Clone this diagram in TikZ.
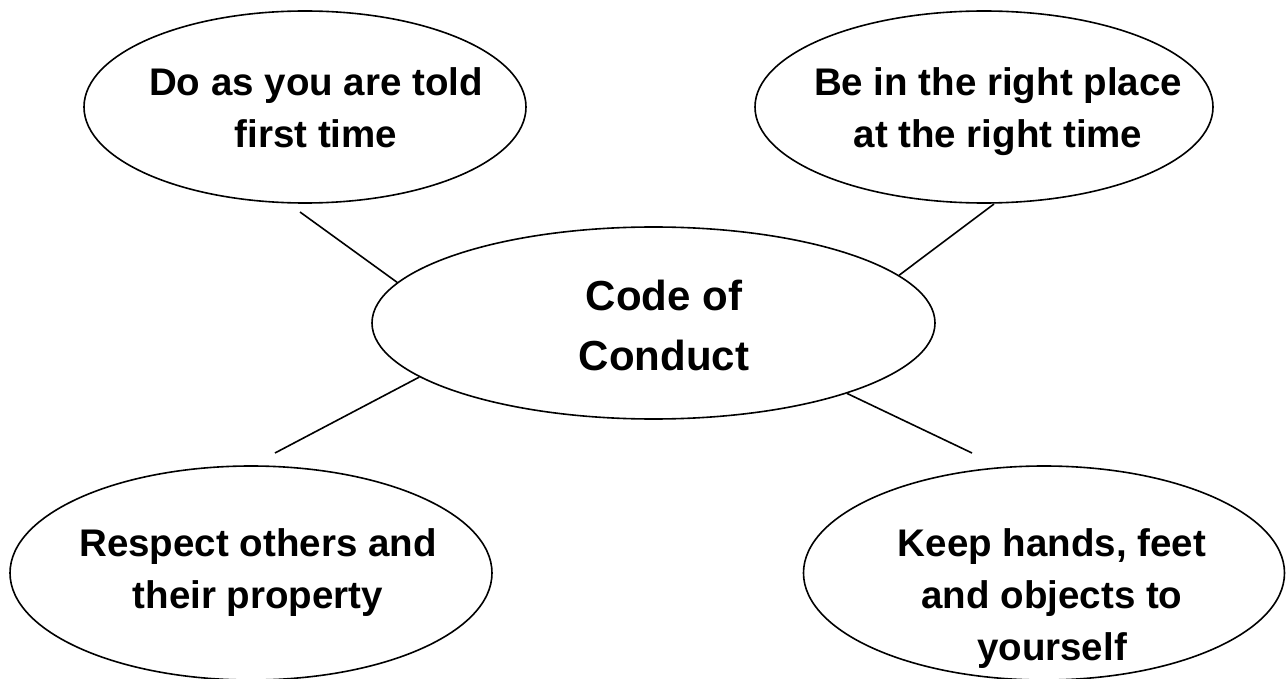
\documentclass[tikz,border=0pt]{standalone}
\usepackage{fontspec}
\setmainfont{Liberation Sans}
\usetikzlibrary{shapes.geometric}
\tikzset{
  bubble/.style={draw=black, line width=1.6pt, ellipse, inner sep=0pt, fill=white},
  satlabel/.style={align=center, inner sep=0pt, anchor=base, font=\bfseries\fontsize{38.5}{52}\selectfont},
  cenlabel/.style={align=center, inner sep=0pt, anchor=base, font=\bfseries\fontsize{42}{59}\selectfont},
  link/.style={draw=black, line width=1.6pt}
}
\begin{document}
\begin{tikzpicture}[x=1pt,y=-1pt]
\useasboundingbox[fill=white] (0,0) rectangle (1286,679);
% ellipses
\node[bubble, minimum width=442pt, minimum height=192pt] (tl) at (305,107) {};
\node[bubble, minimum width=458pt, minimum height=192pt] (tr) at (984,107) {};
\node[bubble, minimum width=563pt, minimum height=192pt] (c)  at (653.5,323) {};
\node[bubble, minimum width=482pt, minimum height=214pt] (bl) at (251,573) {};
\node[bubble, minimum width=481pt, minimum height=214pt] (br) at (1044,573) {};
% texts (anchor base = baseline of the last line)
\node[satlabel] (tltext) at (316,148) {Do as you are told\\first time};
\node[satlabel] (trtext) at (998,148) {Be in the right place\\at the right time};
\node[cenlabel] (ctext) at (664,370) {Code of\\Conduct};
\node[satlabel] (bltext) at (258,608) {Respect others and\\their property};
\node[satlabel] (brtext) at (1052,660) {Keep hands, feet\\and objects to\\yourself};
% free ends of connectors
\coordinate (etl) at (300,212);
\coordinate (etr) at (994,204);
\coordinate (ebl) at (275,453);
\coordinate (ebr) at (972,453);
% connectors
\draw[link] (c.171.4) -- (etl);
\draw[link] (c.11.5) -- (etr);
\draw[link] (c.193.9) -- (ebl);
\draw[link] (c.340.5) -- (ebr);
\end{tikzpicture}
\end{document}
